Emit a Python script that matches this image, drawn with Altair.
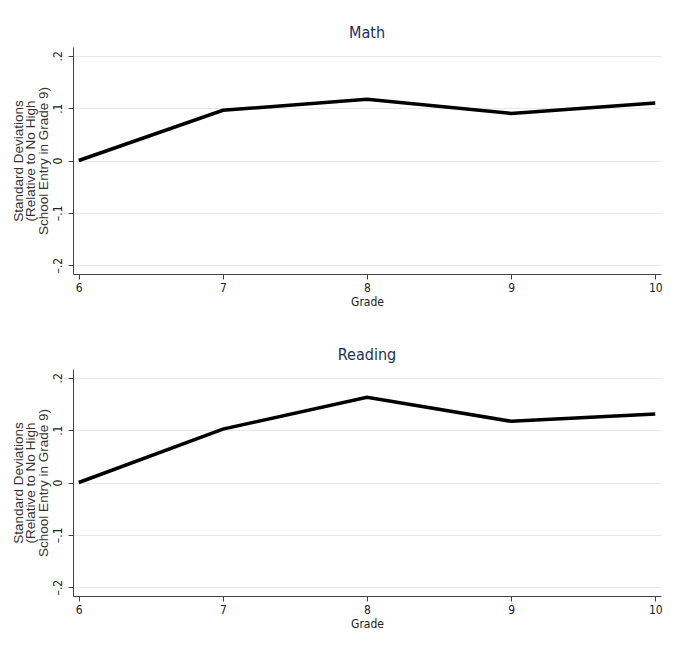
import altair as alt
import pandas as pd

grades = [6, 7, 8, 9, 10]
math_vals = [0.0, 0.096, 0.117, 0.090, 0.110]
reading_vals = [0.0, 0.102, 0.163, 0.117, 0.131]
y_ticks = [-0.2, -0.1, 0.0, 0.1, 0.2]
x_ticks = [6, 7, 8, 9, 10]

df = pd.DataFrame({
    "grade": grades * 2,
    "value": math_vals + reading_vals,
    "subject": ["Math"] * 5 + ["Reading"] * 5,
})

ytitle = ["Standard Deviations", "(Relative to No High", "School Entry in Grade 9)"]
NARROW = "'Liberation Sans Narrow', 'DejaVu Sans Condensed', 'Roboto Condensed', 'Liberation Sans'"


def panel(name):
    return alt.Chart(df).transform_filter(
        alt.datum.subject == name
    ).mark_line(color="black", strokeWidth=3.5).encode(
        x=alt.X("grade:Q", title="Grade",
                scale=alt.Scale(domain=[5.96, 10.04], nice=False, zero=False),
                axis=alt.Axis(values=x_ticks, grid=False, format="d",
                              labelFont=NARROW, labelFontSize=12,
                              labelColor="#222", titleFont=NARROW,
                              titleFontSize=12, titleFontWeight="normal", titleColor="#222",
                              titlePadding=3, tickSize=5, tickColor="#444",
                              domainColor="#444", labelPadding=3)),
        y=alt.Y("value:Q", title=ytitle,
                scale=alt.Scale(domain=[-0.217, 0.217], nice=False, zero=False),
                axis=alt.Axis(values=y_ticks,
                              labelExpr="datum.value == 0 ? '0' : (datum.value < 0 ? '\u2013' : '') + '.' + format(abs(datum.value)*10, 'd')",
                              labelAngle=270, labelAlign="center", labelBaseline="bottom",
                              labelFont=NARROW, labelFontSize=12,
                              labelColor="#222", labelPadding=4,
                              grid=True, gridColor="#e8e8e8", gridWidth=1,
                              tickSize=5, tickColor="#444", domainColor="#444",
                              titleFont="Liberation Sans", titleFontSize=13.5,
                              titleFontWeight="normal", titleColor="#333",
                              titleLineHeight=12.5, titlePadding=1)),
    ).properties(
        width=588, height=227,
        title=alt.TitleParams(name, font=NARROW, fontSize=16,
                              fontWeight="normal", color="#1c2d5e", offset=6),
    )


chart = alt.vconcat(panel("Math"), panel("Reading"), spacing=40).configure_view(
    strokeWidth=0, stroke="transparent"
).properties(background="white",
             padding={"left": 10, "top": 25, "right": 20, "bottom": 5})

chart.save("out.html", embed_options={"renderer": "svg", "actions": False})
